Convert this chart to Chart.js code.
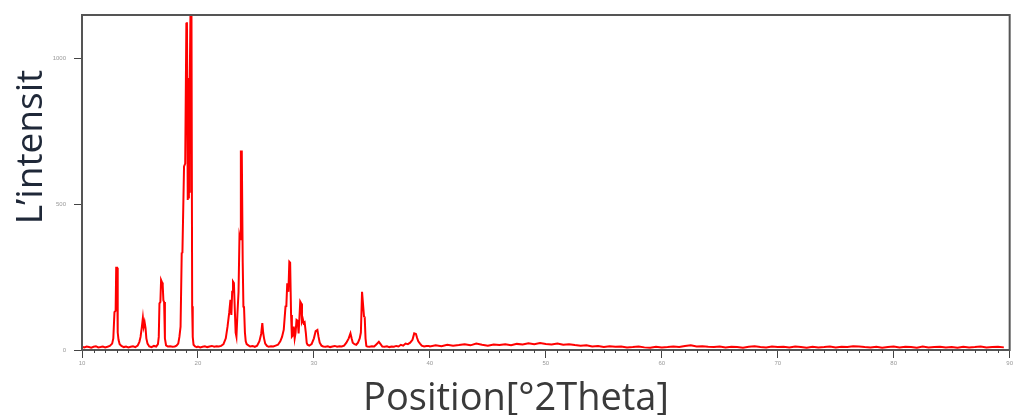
<!DOCTYPE html>
<html>
<head>
<meta charset="utf-8">
<script src="https://cdn.jsdelivr.net/npm/chart.js@4"></script>
<style>
  html, body { margin: 0; padding: 0; background: #fff; }
  #wrap { width: 1015px; height: 415px; }
</style>
</head>
<body>
<div id="wrap"><canvas id="xrd"></canvas></div>
<script>
// 2theta positions and intensities
const theta = [
  10.0, 10.2, 10.4, 10.6, 10.8, 11.0, 11.2, 11.4, 11.6, 11.8, 12.0, 12.2, 12.4, 12.6,
  12.7, 12.8, 12.9, 12.95, 13.02, 13.08, 13.15, 13.25, 13.4,
  13.6, 13.8, 14.0, 14.2, 14.4, 14.6, 14.8, 14.95, 15.05, 15.15, 15.25, 15.32, 15.4, 15.48, 15.55, 15.65,
  15.8, 16.0, 16.2, 16.4, 16.55, 16.62, 16.68, 16.76, 16.82, 16.9, 16.96, 17.02, 17.08, 17.15, 17.25,
  17.4, 17.6, 17.8, 18.0, 18.15, 18.3, 18.4, 18.5, 18.6, 18.66, 18.8, 18.9, 19.0, 19.05, 19.12,
  19.18, 19.22, 19.25, 19.28, 19.31, 19.36, 19.44, 19.5, 19.55, 19.62, 19.75, 19.9,
  20.0, 20.2, 20.4, 20.6, 20.8, 21.0, 21.2, 21.4, 21.6, 21.8, 22.0, 22.2, 22.4, 22.55, 22.7, 22.8,
  22.88, 22.95, 23.02, 23.1, 23.18, 23.25, 23.32, 23.4, 23.5, 23.58, 23.63, 23.7, 23.78, 23.86,
  23.92, 23.97, 24.05, 24.12, 24.2, 24.35, 24.5, 24.7, 24.9, 25.1, 25.3, 25.45, 25.55, 25.62, 25.7,
  25.8, 25.95, 26.1, 26.3, 26.5, 26.7, 26.9, 27.1, 27.25, 27.4, 27.55, 27.62, 27.7, 27.8, 27.88,
  27.95, 28.03, 28.1, 28.18, 28.26, 28.34, 28.42, 28.5, 28.6, 28.68, 28.75, 28.82, 28.9, 28.97,
  29.05, 29.12, 29.2, 29.3, 29.38, 29.45, 29.6, 29.8, 30.0, 30.15, 30.3, 30.4, 30.5, 30.65, 30.8,
  31.0, 31.2, 31.4, 31.6, 31.8, 32.0, 32.2, 32.4, 32.6, 32.8, 33.0, 33.15, 33.25, 33.35, 33.5,
  33.65, 33.8, 33.95, 34.05, 34.15, 34.22, 34.32, 34.38, 34.45, 34.52, 34.6, 34.8, 35.0, 35.2,
  35.4, 35.6, 35.75, 35.9, 36.1, 36.3, 36.5, 36.7, 36.9, 37.1, 37.3, 37.5, 37.7, 37.9, 38.1, 38.3,
  38.5, 38.65, 38.8, 38.9, 39.0, 39.15, 39.3, 39.5, 39.7, 39.9,
  40.0, 40.5, 41.0, 41.5, 42.0, 42.5, 43.0, 43.5, 44.0, 44.5, 45.0, 45.5, 46.0, 46.5, 47.0, 47.5,
  48.0, 48.5, 49.0, 49.5, 50.0, 50.5, 51.0, 51.5, 52.0, 52.5, 53.0, 53.5, 54.0, 54.5, 55.0, 55.5,
  56.0, 56.5, 57.0, 57.5, 58.0, 58.5, 59.0, 59.5, 60.0, 60.5, 61.0, 61.5, 62.0, 62.5, 63.0, 63.5,
  64.0, 64.5, 65.0, 65.5, 66.0, 66.5, 67.0, 67.5, 68.0, 68.5, 69.0, 69.5, 70.0, 70.5, 71.0, 71.5,
  72.0, 72.5, 73.0, 73.5, 74.0, 74.5, 75.0, 75.5, 76.0, 76.5, 77.0, 77.5, 78.0, 78.5, 79.0, 79.5,
  80.0, 80.5, 81.0, 81.5, 82.0, 82.5, 83.0, 83.5, 84.0, 84.5, 85.0, 85.5, 86.0, 86.5, 87.0, 87.5,
  88.0, 88.5, 89.0, 89.5, 90.0
];
const intensity = [
  11, 9, 12, 10, 8, 11, 13, 9, 10, 12, 9, 11, 14, 22,
  40, 130, 135, 282, 282, 60, 35, 20, 14,
  10, 12, 9, 11, 13, 10, 15, 28, 45, 75, 110, 80, 95, 75, 40, 22,
  12, 10, 14, 12, 20, 45, 160, 165, 240, 232, 222, 170, 165, 40, 16,
  12, 13, 11, 12, 15, 22, 45, 80, 333, 335, 630, 640, 1120, 1125, 515,
  934, 520, 930, 540, 930, 1180, 1180, 150, 45, 18, 12,
  10, 12, 9, 11, 13, 10, 12, 14, 11, 13, 12, 14, 20, 40, 80, 130,
  172, 120, 200, 235, 230, 137, 60, 46, 120, 200, 390, 380, 681, 681,
  300, 149, 150, 60, 30, 20, 16, 12, 14, 11, 15, 30, 55, 92, 60,
  40, 22, 14, 11, 13, 12, 15, 18, 30, 45, 70, 149, 150, 229, 200,
  303, 300, 120, 46, 50, 80, 40, 60, 103, 100, 57, 110, 166, 160,
  97, 105, 92, 95, 60, 24, 18, 15, 20, 40, 65, 69, 45, 25, 15,
  12, 11, 13, 10, 12, 14, 11, 13, 12, 15, 25, 40, 57, 40, 25,
  20, 18, 25, 40, 60, 200, 200, 115, 114, 40, 14, 12, 11, 13,
  12, 20, 28, 20, 12, 11, 13, 10, 12, 11, 14, 12, 18, 15, 22, 20,
  25, 35, 57, 55, 41, 30, 22, 15, 12, 14,
  14, 12, 16, 13, 18, 15, 17, 20, 16, 22, 18, 15, 19, 17, 20, 16,
  21, 19, 23, 20, 24, 21, 19, 22, 18, 20, 17, 15, 16, 12, 14, 10,
  13, 11, 12, 9, 10, 12, 9, 8, 11, 9, 10, 12, 10, 14, 16, 12,
  13, 11, 10, 12, 9, 11, 10, 8, 11, 13, 10, 9, 12, 10, 11, 9,
  12, 10, 8, 11, 9, 10, 12, 9, 11, 10, 13, 12, 10, 9, 11, 8,
  10, 12, 9, 11, 10, 8, 12, 9, 10, 11, 9, 10, 8, 11, 9, 10,
  12, 9, 10, 11, 9
];
const xTicks = [10, 20, 30, 40, 50, 60, 70, 80, 90];
const yTicks = [0, 500, 1000];
const xTitle = 'Position[°2Theta]';
const yTitle = 'L’intensit';

const points = theta.map((t, i) => ({ x: t, y: intensity[i] }));

// frame, minor ticks and the two big axis titles
const decor = {
  id: 'decor',
  afterDraw(chart) {
    const { ctx, chartArea: a, scales } = chart;
    ctx.save();
    ctx.strokeStyle = '#555';
    ctx.lineWidth = 2;
    ctx.strokeRect(a.left, a.top, a.right - a.left, a.bottom - a.top);

    ctx.lineWidth = 1;
    ctx.strokeStyle = '#444';
    for (let v = 11; v < 90; v++) {
      if (v % 10 === 0) continue;
      const px = Math.round(scales.x.getPixelForValue(v)) + 0.5;
      ctx.beginPath();
      ctx.moveTo(px, a.bottom);
      ctx.lineTo(px, a.bottom + 3);
      ctx.stroke();
    }

    ctx.fillStyle = '#3a3a3a';
    ctx.font = '38px "Open Sans"';
    ctx.textAlign = 'center';
    ctx.textBaseline = 'alphabetic';
    ctx.fillText(xTitle, 516, 410);

    ctx.translate(42, 147);
    ctx.rotate(-Math.PI / 2);
    ctx.fillStyle = '#1f2838';
    ctx.font = '37px "Open Sans"';
    ctx.fillText(yTitle, 0, 0);
    ctx.restore();
  }
};

new Chart(document.getElementById('xrd'), {
  type: 'line',
  data: {
    datasets: [{
      data: points,
      borderColor: 'rgb(255, 0, 0)',
      borderWidth: 2,
      pointRadius: 0,
      tension: 0,
      fill: false
    }]
  },
  options: {
    responsive: true,
    maintainAspectRatio: false,
    animation: false,
    layout: { padding: { top: 15, right: 5, left: 0, bottom: 0 } },
    plugins: { legend: { display: false }, tooltip: { enabled: false } },
    scales: {
      x: {
        type: 'linear',
        min: 10,
        max: 90,
        afterBuildTicks: s => { s.ticks = xTicks.map(v => ({ value: v })); },
        afterFit: s => { s.height = 65; },
        ticks: { font: { size: 6 }, color: '#999', padding: 2, maxRotation: 0, callback: v => String(v) },
        grid: { drawOnChartArea: false, drawTicks: true, tickLength: 8, color: '#444' },
        border: { display: true, color: '#555', width: 2 }
      },
      y: {
        min: 0,
        max: 1150,
        afterBuildTicks: s => { s.ticks = yTicks.map(v => ({ value: v })); },
        afterFit: s => { s.width = 82; },
        ticks: { font: { size: 6 }, color: '#999', padding: 8, callback: v => String(v) },
        grid: { drawOnChartArea: false, drawTicks: true, tickLength: 8, color: '#444' },
        border: { display: true, color: '#555', width: 2 }
      }
    }
  },
  plugins: [decor]
});
</script>
</body>
</html>
